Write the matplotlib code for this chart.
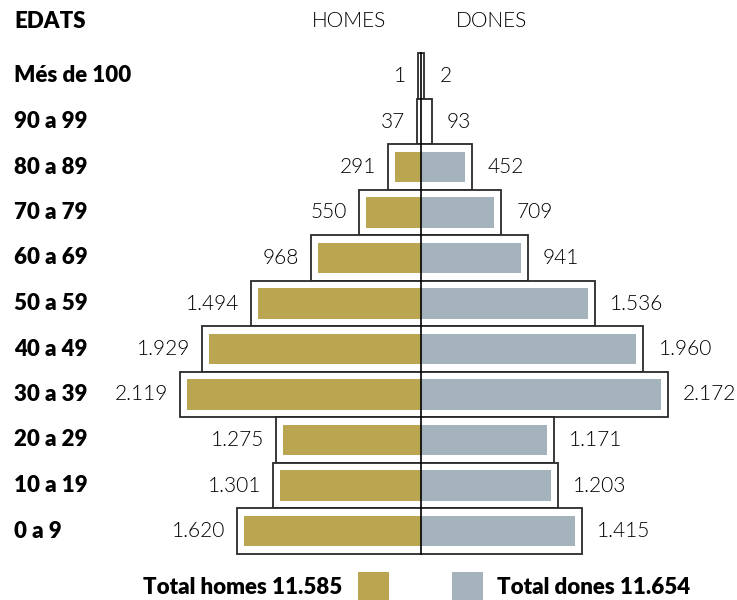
import matplotlib.pyplot as plt
from matplotlib.patches import Rectangle

# dades
edats = ['Més de 100', '90 a 99', '80 a 89', '70 a 79', '60 a 69', '50 a 59',
         '40 a 49', '30 a 39', '20 a 29', '10 a 19', '0 a 9']
homes = [1, 37, 291, 550, 968, 1494, 1929, 2119, 1275, 1301, 1620]
dones = [2, 93, 452, 709, 941, 1536, 1960, 2172, 1171, 1203, 1415]
total_homes = '11.585'
total_dones = '11.654'

c_homes = '#BAA651'
c_dones = '#A4B3BB'
c_vora = '#2a2a2a'

plt.rcParams['font.family'] = ['Lato', 'DejaVu Sans']

W, H = 737, 600
fig = plt.figure(figsize=(W / 100, H / 100), dpi=100)
ax = fig.add_axes([0, 0, 1, 1])
ax.axis('off')

# escala: px per persona, centre a x=421 px, files a 76 px + 45.5 px
k = 0.1135
x0 = 421
ax.set_xlim(-x0 / k, (W - x0) / k)
y0, pas = 76, 45.5
ax.set_ylim((H - y0) / pas, -y0 / pas)

def fmt(v):
    return f'{v:,}'.replace(',', '.')

marge = 7 / k       # separacio entre la caixa i la barra
minim = 30          # amplada minima de la caixa
gap_h = 12 / k
gap_d = 15 / k

for i, (e, h, d) in enumerate(zip(edats, homes, dones)):
    bh = max(h, minim)
    bd = max(d, minim)
    ax.add_patch(Rectangle((-bh, i - 0.5), bh + bd, 1.0, facecolor='white',
                           edgecolor=c_vora, lw=1.3, zorder=1))
    if h > 2 * marge:
        ax.barh(i, -(h - marge), height=0.67, color=c_homes, zorder=2)
    if d > 2 * marge:
        ax.barh(i, d - marge, height=0.67, color=c_dones, zorder=2)
    ax.text(-bh - gap_h, i, fmt(h), ha='right', va='center', fontsize=15,
            fontweight=300, color='black')
    ax.text(bd + gap_d, i, fmt(d), ha='left', va='center', fontsize=15,
            fontweight=300, color='black')
    fig.text(14 / W, 1 - (y0 + pas * i) / H, e, ha='left', va='center',
             fontsize=16, fontweight='heavy', color='black')

ax.plot([0, 0], [-0.5, len(edats) - 0.5], color='black', lw=1.2, zorder=3)

# capçaleres
fig.text(14 / W, 1 - 21 / H, 'EDATS', ha='left', va='center', fontsize=16,
         fontweight='heavy')
fig.text(349 / W, 1 - 21 / H, 'HOMES', ha='center', va='center', fontsize=15,
         fontweight=300, color='black')
fig.text(492 / W, 1 - 21 / H, 'DONES', ha='center', va='center', fontsize=15,
         fontweight=300, color='black')

# llegenda
fig.patches.append(Rectangle((358 / W, 0), 31 / W, 28 / H, facecolor=c_homes,
                             transform=fig.transFigure, figure=fig))
fig.patches.append(Rectangle((452 / W, 0), 31 / W, 28 / H, facecolor=c_dones,
                             transform=fig.transFigure, figure=fig))
fig.text(342 / W, 1 - 587 / H, 'Total homes ' + total_homes, ha='right',
         va='center', fontsize=16, fontweight='heavy')
fig.text(497 / W, 1 - 587 / H, 'Total dones ' + total_dones, ha='left',
         va='center', fontsize=16, fontweight='heavy')

fig.savefig('out.png', dpi=100)
